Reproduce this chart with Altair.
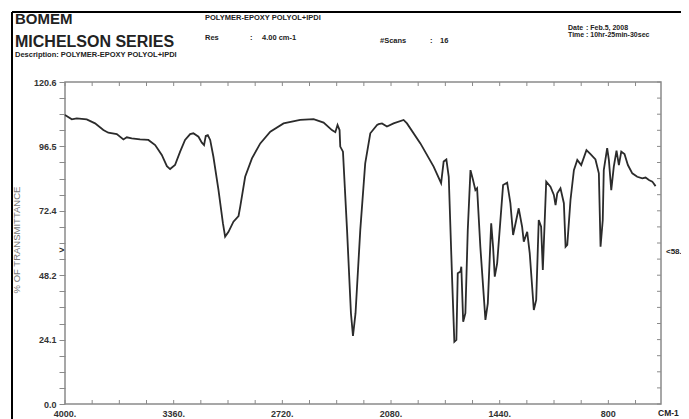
import altair as alt
import pandas as pd

# ---- spectrum (wavenumber cm-1, % transmittance) ----
wavenumber = [4000, 3960, 3931, 3872, 3823, 3774, 3745, 3695, 3656, 3636, 3607, 3558, 3509,
              3469, 3430, 3400, 3381, 3352, 3322, 3293, 3263, 3244, 3214, 3194, 3181, 3171,
              3159, 3145, 3126, 3096, 3070, 3057, 3037, 3008, 2978, 2968, 2939, 2899, 2850,
              2791, 2713, 2615, 2536, 2477, 2428, 2408, 2395, 2383, 2379, 2363, 2339, 2316,
              2304, 2289, 2261, 2232, 2202, 2162, 2153, 2133, 2104, 2065, 2006, 1986, 1907,
              1829, 1785, 1770, 1754, 1740, 1720, 1707, 1695, 1687, 1671, 1666, 1655, 1642,
              1628, 1612, 1597, 1583, 1573, 1554, 1524, 1510, 1490, 1479, 1469, 1455, 1420,
              1396, 1377, 1361, 1328, 1308, 1298, 1278, 1263, 1239, 1225, 1210, 1196, 1186,
              1166, 1141, 1121, 1111, 1101, 1082, 1062, 1052, 1042, 1023, 1003, 983, 960,
              929, 905, 876, 856, 846, 833, 827, 807, 797, 783, 768, 752, 738, 724, 705,
              685, 659, 630, 600, 581, 561, 541, 522]
transmittance = [108.2, 106.6, 107.0, 106.6, 105.1, 102.6, 101.6, 101.1, 99.1, 99.9, 99.5, 99.1, 98.9,
                 97.0, 93.3, 89.1, 88.0, 89.5, 94.5, 98.9, 101.1, 101.4, 100.1, 97.9, 97.0, 100.4,
                 100.7, 98.9, 92.6, 80.1, 67.7, 62.7, 64.5, 68.3, 70.4, 73.9, 85.1, 92.0, 97.6,
                 102.0, 105.1, 106.4, 106.7, 105.4, 102.6, 101.8, 104.5, 102.6, 96.4, 94.5, 65.2, 34.0,
                 25.5, 34.0, 65.2, 90.1, 101.4, 104.5, 104.8, 105.1, 103.9, 105.1, 106.4, 105.1, 97.6,
                 88.9, 82.7, 90.8, 91.6, 85.1, 46.4, 23.3, 24.0, 49.0, 49.6, 51.4, 30.8, 34.0,
                 65.2, 87.6, 83.9, 80.1, 80.8, 58.9, 31.5, 37.7, 67.7, 58.9, 47.7, 52.7, 82.0,
                 82.9, 75.2, 63.3, 73.3, 66.4, 60.8, 64.5, 56.4, 35.2, 39.0, 68.9, 66.4, 50.2,
                 83.3, 81.4, 78.3, 74.5, 78.9, 80.8, 75.2, 58.9, 59.6, 76.4, 87.6, 91.4, 89.5,
                 95.1, 93.6, 91.6, 86.4, 58.9, 68.9, 87.6, 95.8, 91.4, 80.1, 88.9, 94.9, 89.5, 94.5, 93.6,
                 89.5, 86.4, 85.1, 84.5, 84.8, 83.9, 83.3, 81.6]

# ---- axes ----
x_tick_values = [4000 - 160 * i for i in range(22)]
x_label_values = [4000, 3360, 2720, 2080, 1440, 800]
x_label_texts = ["4000.", "3360.", "2720.", "2080.", "1440.", "800"]
y_tick_values = [round(6.03 * i, 2) for i in range(21)]

W, H = 596, 322
FONT = "Liberation Sans"
TXT = "#222222"
FRAME = "#8a8a8a"

spec = pd.DataFrame({"wn": wavenumber, "t": transmittance, "i": range(len(wavenumber))})
xt = pd.DataFrame({"v": x_tick_values})
yt = pd.DataFrame({"v": y_tick_values})
xl = pd.DataFrame({"v": x_label_values, "lab": x_label_texts})

xs = alt.Scale(domain=[4000, 490], nice=False, zero=False)
ys = alt.Scale(domain=[0, 120.6], nice=False, zero=False)

y_axis = alt.Axis(
    values=y_tick_values, title=None, grid=False, domain=False,
    tickSize=6, tickColor=FRAME, tickWidth=1,
    labelExpr="(round(datum.value/6.03) % 4 == 0) ? format(datum.value, '.1f') : ''",
    labelFont=FONT, labelFontSize=9, labelFontWeight="bold", labelColor="#333333",
    labelPadding=3)

line = alt.Chart(spec).mark_line(color="#2b2b2b", strokeWidth=1.8, interpolate="linear").encode(
    x=alt.X("wn:Q", scale=xs, axis=None),
    y=alt.Y("t:Q", scale=ys, axis=y_axis),
    order="i:Q",
)

top_ticks = alt.Chart(xt).mark_rule(color=FRAME, strokeWidth=1).encode(
    x=alt.X("v:Q", scale=xs, axis=None), y=alt.value(0), y2=alt.value(4))
bottom_ticks = alt.Chart(xt).mark_rule(color=FRAME, strokeWidth=1).encode(
    x=alt.X("v:Q", scale=xs, axis=None), y=alt.value(H - 4), y2=alt.value(H))
right_ticks = alt.Chart(yt).mark_rule(color=FRAME, strokeWidth=1).encode(
    y=alt.Y("v:Q", scale=ys, axis=y_axis), x=alt.value(W - 4), x2=alt.value(W))
x_labels = alt.Chart(xl).mark_text(font=FONT, fontSize=9, fontWeight="bold", color="#333333",
                                   align="center", baseline="alphabetic").encode(
    x=alt.X("v:Q", scale=xs, axis=None), y=alt.value(H + 13), text="lab:N")


def label(text, x, y, size, weight="bold", color=TXT, align="left", angle=0):
    return alt.Chart(pd.DataFrame({"t": [text]})).mark_text(
        font=FONT, fontSize=size, fontWeight=weight, color=color, align=align,
        baseline="alphabetic", angle=angle).encode(
        x=alt.value(x), y=alt.value(y), text="t:N")


texts = [
    label("BOMEM", -50, -58, 15),
    label("MICHELSON SERIES", -50, -35.5, 16),
    label("Description: POLYMER-EPOXY POLYOL+IPDI", -50, -25, 7.5),
    label("POLYMER-EPOXY POLYOL+IPDI", 140, -62, 7.5),
    label("Res", 140, -42, 7.5),
    label(":", 185, -42, 7.5),
    label("4.00 cm-1", 197, -42, 7.5),
    label("#Scans", 315, -39.5, 7.5),
    label(":", 365, -39.5, 7.5),
    label("16", 375, -39.5, 7.5),
    label("Date", 503, -52, 7),
    label(": Feb.5, 2008", 521, -52, 7),
    label("Time", 503, -45, 7),
    label(": 10hr-25min-30sec", 521, -45, 7),
    label("% OF TRANSMITTANCE", -45, 158, 9.5, weight="normal", color="#777777",
          align="center", angle=270),
    label(">", -6, 171, 9),
    label("<58.", 601, 172, 8),
    label("CM-1", 593, H + 12, 8.5),
]

frame_top = alt.Chart(pd.DataFrame({"a": [0]})).mark_rule(color="#000000", strokeWidth=2).encode(
    x=alt.value(-53), x2=alt.value(650), y=alt.value(-70))
frame_left = alt.Chart(pd.DataFrame({"a": [0]})).mark_rule(color="#000000", strokeWidth=2).encode(
    x=alt.value(-53), y=alt.value(-70), y2=alt.value(345))

chart = alt.layer(line, right_ticks, top_ticks, bottom_ticks, x_labels, frame_top, frame_left,
                  *texts).properties(
    width=W, height=H,
    autosize=alt.AutoSizeParams(type="none"),
    padding={"left": 57, "top": 74, "right": 20, "bottom": 18},
    background="white",
).configure_view(stroke=FRAME, strokeWidth=1.5)

chart.save("out.html", embed_options={"renderer": "svg", "actions": False})
